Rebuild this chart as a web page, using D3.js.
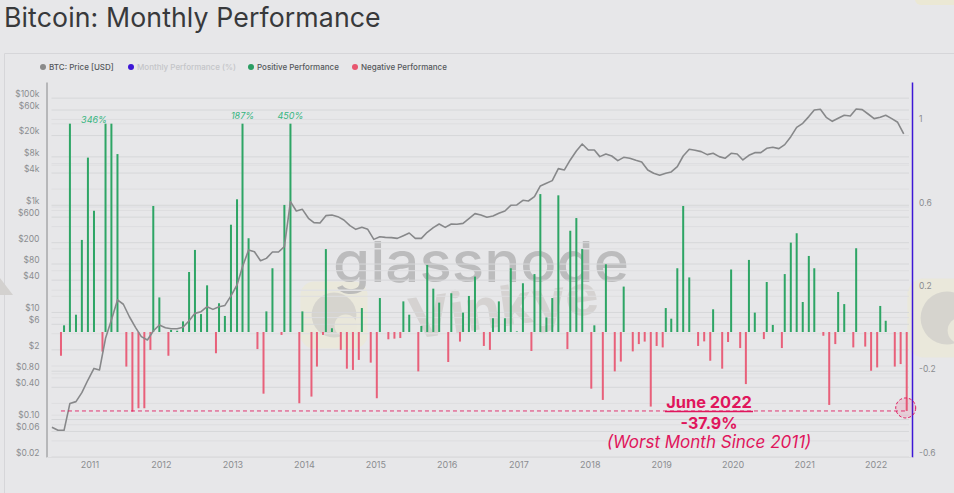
<!DOCTYPE html>
<html>
<head>
<meta charset="utf-8">
<script src="https://cdn.jsdelivr.net/npm/d3@7"></script>
<style>
    html, body { margin: 0; padding: 0; background: #e7e7e9; overflow: hidden; }
    svg { display: block; font-family: Inter, "Noto Sans", sans-serif; }
</style>
</head>
<body>
<div id="chart"></div>
<script>
// monthly performance, Aug 2010 .. Jun 2022 (bars are cut off at 1.0 in the picture)
const monthlyPerf = [
    -0.114, 0.032, 1, 0.083, 0.442, 0.837, 0.582, -0.094, 1, 1, 0.854, -0.166, -0.382, -0.366, -0.366, -0.086,
    0.605, 0.166, -0.114, 0.01, 0.006, 0.051, 0.288, 0.394, 0.086, 0.224, -0.102, 0.138, 0.077, 0.515, 0.637, 1,
    0.45, -0.082, -0.296, 0.099, 0.306, -0.014, 0.61, 1, -0.342, 0.099, -0.31, -0.166, -0.014, 0.398, 0.018, -0.086,
    -0.176, -0.182, -0.134, 0.115, -0.147, -0.318, 0.163, -0.035, -0.032, -0.029, 0.147, 0.083, -0.189, 0.029, 0.322, 0.208,
    0.141, -0.144, 0.186, -0.046, 0.093, 0.173, 0.266, -0.067, -0.086, 0.066, 0.147, 0.066, 0.306, 0.003, 0.234, -0.091,
    0.278, 0.662, 0.07, 0.163, 0.656, -0.082, 0.486, 0.547, 0.398, -0.272, 0.032, -0.326, 0.325, -0.189, -0.142, 0.218,
    -0.093, -0.058, -0.046, -0.358, -0.067, -0.074, 0.115, 0.064, 0.306, 0.605, 0.262, -0.067, -0.045, -0.138, 0.109, -0.176,
    -0.048, 0.3, -0.077, -0.25, 0.346, 0.093, -0.034, 0.24, 0.034, -0.077, 0.278, 0.429, 0.474, 0.144, 0.365, 0.306,
    -0.018, -0.35, -0.058, 0.192, 0.134, -0.074, 0.402, -0.07, -0.186, -0.17, 0.125, 0.054, -0.166, -0.154, -0.379
];

// BTC price in USD, Jul 2010 .. Jun 2022
const btcPrice = [
    0.072, 0.063, 0.063, 0.2, 0.216, 0.318, 0.547, 0.9, 0.84, 3.28, 7.2, 17.1, 14.2, 8.3, 5.27, 3.53,
    3.05, 4.5, 5.82, 5.19, 4.97, 4.97, 5.27, 7, 9.6, 10.3, 12.8, 11.4, 12.8, 13.5, 20.3, 32.5,
    71, 146, 136, 92, 102, 134, 134, 169, 1170, 781, 840, 571, 474, 467, 640, 659,
    613, 531, 417, 355, 387, 355, 231, 259, 252, 249, 241, 271, 304, 241, 241, 313,
    382, 448, 387, 448, 441, 460, 563, 698, 659, 596, 630, 708, 782, 998, 1012, 1239,
    1202, 1449, 2291, 2570, 2884, 4830, 4560, 7015, 10330, 13930, 10770, 10770, 8090, 9080, 8310, 6810,
    7850, 7530, 6900, 6430, 4560, 3950, 3625, 3950, 4190, 5260, 8310, 11090, 10620, 10030, 8810, 9330,
    8090, 7530, 9330, 9080, 7015, 8570, 9600, 9600, 11560, 12080, 11400, 13550, 19100, 28510, 33880, 45190,
    60120, 61800, 43850, 36900, 41980, 47750, 46450, 62800, 60950, 50580, 41400, 43850, 47750, 41400, 35400, 21500
];

const priceLabels = [100000, 60000, 20000, 8000, 4000, 1000, 600, 200, 80, 40, 10, 6, 2, 0.8, 0.4, 0.1, 0.06, 0.02];
const priceGrid = [100000, 60000, 40000, 20000, 8000, 6000, 4000, 2000, 1000, 800, 600, 400, 200, 80, 60, 40, 20, 10, 8, 6, 4, 2, 1, 0.8, 0.6, 0.4, 0.2, 0.1, 0.08, 0.06, 0.04, 0.02];
const perfLabels = [1, 0.6, 0.2, -0.2, -0.6];
const perfGrid = [1, 0.8, 0.6, 0.4, 0.2, -0.2, -0.4];
const yearLabels = [2011, 2012, 2013, 2014, 2015, 2016, 2017, 2018, 2019, 2020, 2021, 2022];
const legendNames = ['BTC: Price [USD]', 'Monthly Performance (%)', 'Positive Performance', 'Negative Performance'];
const legendColors = ['#8a8a8a', '#3d17d6', '#2a9d62', '#e8566f'];
const legendText = ['#55585c', '#c4c5c8', '#55585c', '#55585c'];
const legendX = [43, 131, 251, 355];
const peakMonths = [6, 31, 39];   // which month each peak label sits on
const peakLabels = ['346%', '187%', '450%'];
const worstValue = -0.379;

const width = 954, height = 493;
const margin = { top: 82, right: 42, bottom: 36, left: 46.5 };
const innerRight = width - margin.right;
const innerBottom = height - margin.bottom;
const greenColor = '#2ea565', redColor = '#e8607a', accent = '#e0155c';

const monthDate = i => new Date(Date.UTC(2010, 7 + i, 1));

const xScale = d3.scaleUtc()
    .domain([new Date(Date.UTC(2010, 4, 19)), new Date(Date.UTC(2022, 5, 28))])
    .range([margin.left, innerRight]);
const yPrice = d3.scaleLog().domain([0.02, 200000]).range([innerBottom, margin.top]);
const yPerf = d3.scaleLinear().domain([-0.6, 1.2]).range([innerBottom, margin.top]);

// green bars and the price line sit half a month left of the red bars
const halfMonth = -3;

const svg = d3.select('#chart').append('svg').attr('width', width).attr('height', height);

// panel
svg.append('path').attr('d', `M4.5 ${height}V53.5H${width}`)
    .attr('fill', 'none').attr('stroke', '#d6d6d9').attr('stroke-width', 1);

// title
svg.append('text').attr('x', 4).attr('y', 26.5)
    .attr('font-size', 26.7).attr('fill', '#38393b').attr('letter-spacing', 0.1)
    .text('Bitcoin: Monthly Performance');

// watermarks
const marks = svg.append('g').attr('class', 'watermarks');
function eagle(cx, cy, r) {
    const g = marks.append('g').attr('transform', `translate(${cx},${cy})`);
    g.append('rect').attr('x', -r * 1.2).attr('y', -r * 1.2).attr('width', r * 2.4).attr('height', r * 2.4)
        .attr('rx', r * 0.5).attr('fill', '#ebe8d4').attr('opacity', 0.7);
    g.append('circle').attr('r', r * 0.8).attr('fill', '#cfcdca').attr('opacity', 0.75);
    g.append('circle').attr('cx', r * 0.42).attr('cy', r * 0.38).attr('r', r * 0.4).attr('fill', '#e9e7da');
}
eagle(334, 315, 28);
eagle(947, 318, 33);
marks.append('path').attr('d', 'M0 278L13 295H0Z').attr('fill', '#d3d1cf');
marks.append('rect').attr('x', 915).attr('y', -8).attr('width', 50).attr('height', 13).attr('rx', 6).attr('fill', '#ebe8d4');

marks.append('text').attr('x', 481).attr('y', 282).attr('text-anchor', 'middle')
    .attr('font-size', 56).attr('font-weight', 500).attr('textLength', 296).attr('lengthAdjust', 'spacingAndGlyphs')
    .attr('fill', '#b5b5b6').attr('opacity', 0.85).text('glassnode');
marks.append('text').attr('transform', 'translate(506,326) rotate(-8)').attr('text-anchor', 'middle')
    .attr('font-size', 56).attr('font-weight', 700).attr('fill', '#cfccca').attr('opacity', 0.75).text('Vinkye');

// grid
svg.append('g').selectAll('line').data(priceGrid).join('line')
    .attr('x1', margin.left + 5).attr('x2', innerRight - 3)
    .attr('y1', d => yPrice(d)).attr('y2', d => yPrice(d))
    .attr('stroke', d => priceLabels.includes(d) ? '#d6d7d9' : '#dedee0').attr('stroke-width', 1);
svg.append('g').selectAll('line').data(perfGrid).join('line')
    .attr('x1', margin.left + 5).attr('x2', innerRight - 3)
    .attr('y1', d => yPerf(d)).attr('y2', d => yPerf(d))
    .attr('stroke', '#e1e1e3').attr('stroke-width', 1.5);

// bars
const months = monthlyPerf.map((v, i) => ({ date: monthDate(i), v }));
svg.append('g').selectAll('rect').data(months).join('rect')
    .attr('x', d => xScale(d.date) - 1 + (d.v > 0 ? halfMonth : 0))
    .attr('width', 2)
    .attr('y', d => yPerf(Math.max(d.v, 0)))
    .attr('height', d => Math.abs(yPerf(d.v) - yPerf(0)))
    .attr('fill', d => d.v > 0 ? greenColor : redColor);

// price line
const line = d3.line()
    .x((d, i) => xScale(monthDate(i - 1)) + halfMonth)
    .y(d => yPrice(d));
svg.append('path').datum(btcPrice).attr('d', line)
    .attr('fill', 'none').attr('stroke', '#87888a').attr('stroke-width', 1.6).attr('stroke-linejoin', 'round');

// axes
const leftAxis = d3.axisLeft(yPrice).tickValues(priceLabels).tickSize(0).tickPadding(7)
    .tickFormat(d => d >= 1000 ? `$${d / 1000}k` : d >= 1 ? `$${d}` : `$${d.toFixed(2)}`);
const rightAxis = d3.axisRight(yPerf).tickValues(perfLabels).tickSize(0).tickPadding(7).tickFormat(d => d);
const bottomAxis = d3.axisBottom(xScale).tickValues(yearLabels.map(y => new Date(Date.UTC(y, 0, 1))))
    .tickSize(0).tickPadding(5).tickFormat(d3.utcFormat('%Y'));

function styleAxis(g, dy, dx, size) {
    g.selectAll('text').attr('font-family', 'Inter, "Noto Sans", sans-serif').attr('font-size', size)
        .attr('fill', '#8b8d90').attr('dx', dx).attr('dy', dy);
}
const gLeft = svg.append('g').attr('transform', `translate(${margin.left},0)`).call(leftAxis);
gLeft.select('.domain').attr('stroke', '#87888a').attr('stroke-width', 1);
styleAxis(gLeft, '-0.2em', 0, 8.5);

const gRight = svg.append('g').attr('transform', `translate(${innerRight},0)`).call(rightAxis);
gRight.select('.domain').attr('stroke', '#3d17d6').attr('stroke-width', 1.5);
styleAxis(gRight, '-0.2em', 0, 8.5);

const gBottom = svg.append('g').attr('transform', `translate(0,${innerBottom})`).call(bottomAxis);
gBottom.select('.domain').attr('stroke', '#dcdcde');
styleAxis(gBottom, '0.71em', -1.5, 9);

// legend
const legend = svg.append('g').selectAll('g').data(legendNames).join('g')
    .attr('transform', (d, i) => `translate(${legendX[i]},67)`);
legend.append('circle').attr('r', 3).attr('fill', (d, i) => legendColors[i]);
legend.append('text').attr('x', 6).attr('dy', '0.35em').attr('font-size', 8).attr('font-weight', 500)
    .attr('fill', (d, i) => legendText[i]).text(d => d);

// peak labels
svg.append('g').selectAll('text').data(peakLabels).join('text')
    .attr('x', (d, i) => xScale(monthDate(peakMonths[i])) + halfMonth)
    .attr('y', (d, i) => i === 0 ? 123 : 119)
    .attr('text-anchor', 'middle').attr('font-size', 9).attr('font-style', 'italic')
    .attr('fill', '#35b57f').text(d => d);

// worst month marker
const lastX = xScale(monthDate(monthlyPerf.length - 1));
const worstY = yPerf(worstValue);
svg.append('line').attr('x1', xScale(monthDate(0))).attr('x2', lastX)
    .attr('y1', worstY).attr('y2', worstY)
    .attr('stroke', accent).attr('stroke-width', 1).attr('stroke-dasharray', '4 3').attr('opacity', 0.85);
svg.append('circle').attr('cx', lastX - 1).attr('cy', worstY - 3).attr('r', 10)
    .attr('fill', accent).attr('fill-opacity', 0.12)
    .attr('stroke', accent).attr('stroke-dasharray', '3 2');

const noteX = 709;
svg.append('text').attr('x', noteX).attr('y', 407.5).attr('text-anchor', 'middle')
    .attr('font-size', 16.4).attr('font-weight', 700).attr('fill', accent).text('June 2022');
svg.append('line').attr('x1', 665).attr('x2', 753).attr('y1', 411.5).attr('y2', 411.5)
    .attr('stroke', accent).attr('stroke-width', 1.5);
svg.append('text').attr('x', noteX).attr('y', 428.5).attr('text-anchor', 'middle')
    .attr('font-size', 16).attr('font-weight', 700).attr('fill', accent).text('-37.9%');
svg.append('text').attr('x', noteX).attr('y', 448).attr('text-anchor', 'middle')
    .attr('font-size', 17).attr('font-style', 'italic').attr('fill', accent).text('(Worst Month Since 2011)');
</script>
</body>
</html>
